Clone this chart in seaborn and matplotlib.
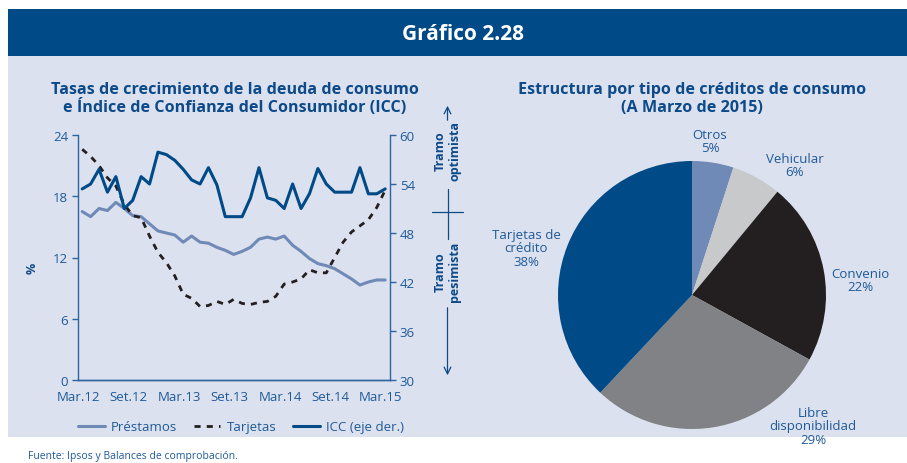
import matplotlib
matplotlib.use("Agg")
import matplotlib.pyplot as plt
import seaborn as sns
import pandas as pd
import numpy as np
from matplotlib.patches import Rectangle

# ---------------- data ----------------
months = list(range(37))  # Mar.12 .. Mar.15 monthly
prestamos = [16.5, 16.0, 16.8, 16.6, 17.4, 16.8, 16.1, 16.0, 15.3, 14.6, 14.4, 14.2,
             13.5, 14.1, 13.5, 13.4, 13.0, 12.7, 12.3, 12.6, 13.0, 13.8, 14.0, 13.8,
             14.1, 13.2, 12.6, 11.9, 11.4, 11.2, 10.9, 10.4, 9.9, 9.3, 9.6, 9.8, 9.8]
tarjetas = [22.6, 21.9, 21.0, 19.8, 19.0, 17.2, 16.1, 15.9, 14.1, 12.5, 11.5, 10.2,
            8.4, 8.0, 7.2, 7.3, 7.7, 7.4, 7.9, 7.5, 7.4, 7.6, 7.7, 8.2,
            9.4, 9.6, 9.9, 10.8, 10.5, 10.5, 12.0, 13.5, 14.5, 15.1, 15.7, 16.9, 18.6]
icc = [53.4, 54.0, 55.8, 53.0, 54.9, 51.0, 52.0, 54.9, 54.0, 57.9, 57.6, 56.9,
       55.8, 54.5, 54.0, 56.0, 53.9, 50.0, 50.0, 50.0, 52.3, 56.0, 52.3, 52.0,
       51.0, 54.0, 51.0, 52.8, 55.9, 54.0, 53.0, 53.0, 53.0, 56.0, 52.8, 52.8, 53.4]
xtick_pos = [0, 6, 12, 18, 24, 30, 36]
xtick_labels = ["Mar.12", "Set.12", "Mar.13", "Set.13", "Mar.14", "Set.14", "Mar.15"]

pie_labels = ["Otros\n5%", "Vehicular\n6%", "Convenio\n22%",
              "Libre\ndisponibilidad\n29%", "Tarjetas de\ncrédito\n38%"]
pie_values = [5, 6, 22, 29, 38]

# ---------------- style ----------------
sns.set_theme(style="white")
plt.rcParams['font.family'] = ['Open Sans', 'DejaVu Sans']

W, H = 907, 464
BG = "#dce1ef"
HEADER = "#004a87"
DARK = "#004a87"
LIGHT = "#6f8ab7"
BLACK = "#231f20"
TXT = "#1f5a98"
TITLE = "#0d4a89"
AXC = "#2d65a0"

fig = plt.figure(figsize=(W / 100, H / 100), dpi=100)
fig.patch.set_facecolor("white")

# background/overlay axes in pixel coords
bg = fig.add_axes([0, 0, 1, 1], zorder=-5)
bg.set_xlim(0, W)
bg.set_ylim(H, 0)
bg.axis("off")
bg.add_patch(Rectangle((8, 57), W - 8, 381, facecolor=BG, edgecolor="none"))
bg.add_patch(Rectangle((8, 10), W - 8, 47, facecolor=HEADER, edgecolor="none"))
bg.text(463, 34, "Gráfico 2.28", color="white", fontsize=15, fontweight="bold",
        ha="center", va="center")
bg.text(235, 99, "Tasas de crecimiento de la deuda de consumo\ne Índice de Confianza del Consumidor (ICC)",
        color=TITLE, fontsize=11.6, fontweight="bold", ha="center", va="center",
        linespacing=1.15)
bg.text(692, 99, "Estructura por tipo de créditos de consumo\n(A Marzo de 2015)",
        color=TITLE, fontsize=11.6, fontweight="bold", ha="center", va="center",
        linespacing=1.15)
bg.text(28, 457, "Fuente: Ipsos y Balances de comprobación.", color=TXT,
        fontsize=7.5, ha="left", va="center")
bg.text(32, 268, "%", color=TITLE, fontsize=9, fontweight="bold", rotation=90,
        ha="center", va="center")

# tramo annotations
ax_x = 447.5
bg.annotate("", xy=(ax_x, 104), xytext=(ax_x, 124),
            arrowprops=dict(arrowstyle="->", color=TITLE, lw=0.9))
bg.plot([ax_x, ax_x], [190, 240], color=TITLE, lw=0.9)
bg.plot([432, 463], [213, 213], color=TITLE, lw=0.9)
bg.annotate("", xy=(ax_x, 379), xytext=(ax_x, 306),
            arrowprops=dict(arrowstyle="->", color=TITLE, lw=0.9))
bg.text(ax_x, 151, "Tramo\noptimista", color=TITLE, fontsize=9, fontweight="bold",
        rotation=90, ha="center", va="center", linespacing=1.1)
bg.text(ax_x, 272, "Tramo\npesimista", color=TITLE, fontsize=9, fontweight="bold",
        rotation=90, ha="center", va="center", linespacing=1.1)

# ---------------- line chart ----------------
left, right, top, bottom = 78, 390, 136, 381
ax = fig.add_axes([left / W, (H - bottom) / H, (right - left) / W, (bottom - top) / H])
ax.set_facecolor("none")
xs = np.array(months) + 0.5
df = pd.DataFrame({"x": xs, "Préstamos": prestamos, "Tarjetas": tarjetas, "ICC": icc})

sns.lineplot(data=df, x="x", y="Préstamos", ax=ax, color=LIGHT, lw=2.2,
             label="Préstamos", legend=False)
sns.lineplot(data=df, x="x", y="Tarjetas", ax=ax, color=BLACK, lw=2.0,
             linestyle=(0, (2.2, 2.2)), label="Tarjetas", legend=False)
ax2 = ax.twinx()
sns.lineplot(data=df, x="x", y="ICC", ax=ax2, color=DARK, lw=2.2,
             label="ICC (eje der.)", legend=False)

ax.set_xlim(0, 37.07)
ax.set_ylim(0, 24)
ax2.set_ylim(30, 60)
ax.set_yticks([0, 6, 12, 18, 24])
ax2.set_yticks([30, 36, 42, 48, 54, 60])
ax.set_xticks(xtick_pos)
ax.set_xticklabels(xtick_labels)
ax.set_xlabel("")
ax.set_ylabel("")
ax2.set_ylabel("")

for a in (ax, ax2):
    for s in a.spines.values():
        s.set_color(AXC)
        s.set_linewidth(1.0)
    a.spines["top"].set_visible(False)
    a.tick_params(colors=AXC, labelcolor=TXT, labelsize=9.5, length=4, width=1.0,
                  direction="out")
ax.spines["right"].set_visible(False)
ax2.spines["left"].set_visible(False)
ax.tick_params(axis="x", pad=3)
ax.tick_params(axis="y", pad=3)
ax2.tick_params(axis="y", pad=3)

h1, l1 = ax.get_legend_handles_labels()
h2, l2 = ax2.get_legend_handles_labels()
leg = fig.legend(h1 + h2, l1 + l2, loc="center", bbox_to_anchor=(241 / W, (H - 428) / H),
                 ncol=3, frameon=False, fontsize=9.5, handlelength=2.0,
                 columnspacing=1.3, handletextpad=0.45)
for t in leg.get_texts():
    t.set_color(TXT)

# ---------------- pie ----------------
cx, cy, r = 692, 296, 134
axp = fig.add_axes([(cx - r) / W, (H - cy - r) / H, 2 * r / W, 2 * r / H])
axp.set_facecolor("none")
pie_colors = [LIGHT, "#c8c9cb", BLACK, "#808285", DARK]
axp.pie(pie_values, colors=pie_colors, startangle=90, counterclock=False,
        radius=1.0, wedgeprops=dict(linewidth=0))
axp.set_xlim(-1, 1)
axp.set_ylim(-1, 1)
axp.set_aspect("auto")
axp.axis("off")

label_pos = [(710, 142), (795, 166), (860, 281), (813, 427), (526, 249)]
for lab, (px, py) in zip(pie_labels, label_pos):
    bg.text(px, py, lab, color=TXT, fontsize=9.5, ha="center", va="center",
            linespacing=1.05)

fig.savefig("out.png", dpi=100)
